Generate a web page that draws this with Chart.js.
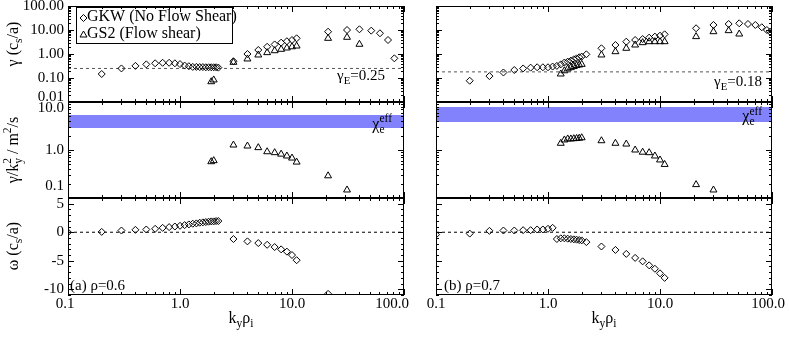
<!DOCTYPE html>
<html>
<head>
<meta charset="utf-8">
<title>Growth rates vs kyrho</title>
<script src="https://cdn.jsdelivr.net/npm/chart.js@4.4.1/dist/chart.umd.min.js"></script>
<style>
  body { margin: 0; background: #fff; }
  #wrap { position: relative; width: 789px; height: 337px; overflow: hidden; }
  #wrap canvas { position: absolute; left: 0; top: 0; }
</style>
</head>
<body>
<div id="wrap">
  <canvas id="gammaA" width="789" height="337"></canvas>
  <canvas id="chiA" width="789" height="337"></canvas>
  <canvas id="omegaA" width="789" height="337"></canvas>
  <canvas id="gammaB" width="789" height="337"></canvas>
  <canvas id="chiB" width="789" height="337"></canvas>
  <canvas id="omegaB" width="789" height="337"></canvas>
</div>
<script>
// axis ranges
const kMin = 0.1, kMax = 100;
const gammaMin = 0.01, gammaMax = 100;
const chiMin = 0.1, chiMax = 10;
const omegaMin = -11, omegaMax = 6;

// tick labels
const kTicks = [0.1, 1, 10, 100];
const kTickLabels = ['0.1', '1.0', '10.0', '100.0'];
const gammaTicks = [0.01, 0.1, 1, 10, 100];
const gammaTickLabels = ['0.01', '0.10', '1.00', '10.00', '100.00'];
const chiTicks = [0.1, 1, 10];
const chiTickLabels = ['0.1', '1.0', '10.0'];
const omegaTicks = [-10, -5, 0, 5];
const omegaTickLabels = ['-10', '-5', '0', '5'];

// (a) rho = 0.6
const kGkwA = [0.1, 0.2, 0.3, 0.4, 0.5, 0.6, 0.7, 0.8, 0.9, 1.0,
  1.1, 1.2, 1.3, 1.4, 1.5, 1.6, 1.7, 1.8, 1.9, 2.0, 2.1, 2.2,
  3, 4, 5, 6, 7, 8, 9, 10, 11, 21, 31, 40, 51, 61, 72, 82];
const gammaGkwA = [null, 0.147, 0.25, 0.32, 0.37, 0.41, 0.43, 0.43, 0.41, 0.38,
  0.33, 0.31, 0.29, 0.29, 0.285, 0.285, 0.28, 0.28, 0.28, 0.28, 0.28, 0.27,
  0.5, 1.0, 1.47, 2.0, 2.5, 2.97, 3.4, 3.83, 4.5, 8.5, 10.0, 10.7, 9.4, 7.3, 3.83, 0.66];
const omegaGkwA = [0, 0.06, 0.3, 0.42, 0.48, 0.6, 0.77, 0.9, 1.0, 1.13,
  1.25, 1.37, 1.49, 1.55, 1.67, 1.73, 1.79, 1.85, 1.9, 1.9, 1.96, 1.96,
  -1.19, -1.6, -1.9, -2.2, -2.6, -3.0, -3.4, -4.0, -4.9, -10.8, null, null, null, null, null, null];
const kGs2A = [1.9, 2.0, 3, 4, 5, 6, 7, 8, 9, 10, 11, 21, 31, 40];
const gammaGs2A = [0.07, 0.083, 0.45, 0.62, 0.91, 1.14, 1.37, 1.57, 1.78, 2.0, 2.15, 4.5, 4.96, 2.54];
const chiGs2A = [0.57, 0.6, 1.27, 1.21, 1.12, 0.92, 0.88, 0.82, 0.75, 0.68, 0.56, 0.29, 0.147, null];
const gammaEA = 0.25;
const chiBandA = [2.87, 5.36];

// (b) rho = 0.7
const kGkwB = [0.1, 0.2, 0.3, 0.4, 0.5, 0.6, 0.7, 0.8, 0.9, 1.0,
  1.1, 1.2, 1.3, 1.4, 1.5, 1.6, 1.7, 1.8, 1.9, 2.0, 2.2,
  3, 4, 5, 6, 7, 8, 9, 10, 11, 21, 30, 41, 51, 61, 71, 81, 90, 96];
const gammaGkwB = [null, 0.077, 0.12, 0.17, 0.215, 0.25, 0.27, 0.28, 0.28, 0.28,
  0.3, 0.32, 0.37, 0.44, 0.48, 0.53, 0.6, 0.66, 0.73, 0.78, 0.97,
  1.73, 2.37, 3.26, 3.83, 4.2, 4.8, 5.3, 5.8, 6.6, 11.8, 16.2, 17.8, 19, 17.8, 16.2, 13, 10, 8.5];
const omegaGkwB = [-0.42, -0.24, 0.24, 0.3, 0.3, 0.36, 0.36, 0.48, 0.48, 0.6,
  0.77, -1.19, -1.07, -1.07, -1.13, -1.19, -1.25, -1.3, -1.37, -1.43, -1.73,
  -2.5, -3.1, -3.8, -4.5, -5.1, -5.8, -6.4, -7.2, -8.0, null, null, null, null, null, null, null, null, null];
const kGs2B = [1.3, 1.4, 1.5, 1.6, 1.7, 1.8, 1.9, 2.0, 3, 4, 5, 6, 7, 8, 9, 10, 11, 21, 30, 41, 51];
const gammaGs2B = [0.147, 0.2, 0.24, 0.27, 0.3, 0.33, 0.35, 0.37, 0.91, 1.25, 1.73, 2.37, 2.97, 3.26, 3.26, 3.26, 3.26, 5.3, 8.5, 9.4, 6.8];
const chiGs2B = [1.38, 1.62, 1.7, 1.7, 1.72, 1.74, 1.76, 1.8, 1.56, 1.38, 1.33, 1.0, 0.9, 0.88, 0.75, 0.62, 0.5, 0.19, 0.147, null, null];
const gammaEB = 0.18;
const chiBandB = [3.83, 7.87];

const W = 789, H = 337;
const SERIF = '"Liberation Serif", "Times New Roman", serif';

function pts(xs, ys) {
  return xs.map((x, i) => ({ x: x, y: ys[i] })).filter(p => p.y !== null);
}

function gkw(data) {
  return { data: data, pointStyle: 'rectRot', pointRadius: 3.5, pointBorderWidth: 1,
    pointBorderColor: '#000', pointBackgroundColor: 'rgba(0,0,0,0)', clip: 0 };
}
function gs2(data) {
  return { data: data, pointStyle: 'triangle', pointRadius: 4, pointBorderWidth: 1,
    pointBorderColor: '#000', pointBackgroundColor: 'rgba(0,0,0,0)', clip: 0 };
}
function hline(y, color) {
  return { data: [{ x: kMin, y: y }, { x: kMax, y: y }], showLine: true, pointRadius: 0,
    borderColor: color, borderWidth: 1, borderDash: [3, 3] };
}
function band(lo, hi) {
  return [
    { data: [{ x: kMin, y: lo }, { x: kMax, y: lo }], showLine: true, pointRadius: 0, borderWidth: 0, fill: false },
    { data: [{ x: kMin, y: hi }, { x: kMax, y: hi }], showLine: true, pointRadius: 0, borderWidth: 0,
      fill: '-1', backgroundColor: '#8282fc' }
  ];
}

// text with sub/superscripts: parts = [text, 'sub'|'sup'|'', noAdvance]
function drawRich(ctx, parts, x, y, size, align) {
  const fontOf = k => (k ? size * 0.72 : size) + 'px ' + SERIF;
  let total = 0;
  parts.forEach(p => { ctx.font = fontOf(p[1]); if (!p[2]) total += ctx.measureText(p[0]).width; });
  let cx = align === 'center' ? x - total / 2 : align === 'right' ? x - total : x;
  ctx.textAlign = 'left';
  ctx.textBaseline = 'alphabetic';
  parts.forEach(p => {
    ctx.font = fontOf(p[1]);
    const dy = p[1] === 'sub' ? size * 0.25 : p[1] === 'sup' ? -size * 0.42 : 0;
    ctx.fillText(p[0], cx, y + dy);
    if (!p[2]) cx += ctx.measureText(p[0]).width;
  });
}

function tickList(scale, log) {
  const out = [];
  if (log) {
    for (let e = Math.floor(Math.log10(scale.min)); e <= Math.ceil(Math.log10(scale.max)); e++) {
      for (let m = 1; m <= 9; m++) {
        const v = m * Math.pow(10, e);
        if (v >= scale.min * 0.999 && v <= scale.max * 1.001) out.push({ v: v, major: m === 1 });
      }
    }
  } else {
    for (let v = Math.ceil(scale.min); v <= Math.floor(scale.max); v++) out.push({ v: v, major: v % 5 === 0 });
  }
  return out;
}

function makeDecor(cfg) {
  return {
    id: 'decor',
    afterDraw(chart) {
      const { ctx, chartArea: a, scales: { x, y } } = chart;
      ctx.save();
      ctx.strokeStyle = '#000';
      ctx.fillStyle = '#000';
      ctx.lineWidth = 1;
      // inward tick marks on all four sides
      ctx.beginPath();
      tickList(x, true).forEach(t => {
        const px = Math.round(x.getPixelForValue(t.v)) + 0.5;
        const len = t.major ? 6 : 3;
        ctx.moveTo(px, a.bottom); ctx.lineTo(px, a.bottom - len);
        ctx.moveTo(px, a.top); ctx.lineTo(px, a.top + len);
      });
      tickList(y, cfg.yLog).forEach(t => {
        const py = Math.round(y.getPixelForValue(t.v)) + 0.5;
        const len = t.major ? 6 : 3;
        ctx.moveTo(a.left, py); ctx.lineTo(a.left + len, py);
        ctx.moveTo(a.right, py); ctx.lineTo(a.right - len, py);
      });
      ctx.stroke();
      ctx.strokeRect(a.left + 0.5, a.top + 0.5, a.right - a.left - 1, a.bottom - a.top - 1);

      // tick labels
      ctx.font = '15px ' + SERIF;
      if (cfg.yLabels) {
        ctx.textAlign = 'right';
        ctx.textBaseline = 'middle';
        const [vals, labels] = cfg.yLabels;
        vals.forEach((v, i) => {
          let py = y.getPixelForValue(v);
          if (i === 0) py += cfg.yEdge[0];
          if (i === vals.length - 1) py += cfg.yEdge[1];
          ctx.fillText(labels[i], a.left - 4, py);
        });
      }
      if (cfg.xLabels) {
        ctx.textAlign = 'center';
        ctx.textBaseline = 'top';
        const [vals, labels] = cfg.xLabels;
        vals.forEach((v, i) => {
          let px = x.getPixelForValue(v);
          if (i === 0) px += cfg.xEdge[0];
          if (i === vals.length - 1) px += cfg.xEdge[1];
          ctx.fillText(labels[i], px, a.bottom + 2);
        });
        drawRich(ctx, [['k', ''], ['y', 'sub'], ['\u03c1', ''], ['i', 'sub']],
          (a.left + a.right) / 2 + cfg.xTitleShift, a.bottom + 28, 16, 'center');
      }
      if (cfg.yTitle) {
        ctx.save();
        ctx.translate(cfg.yTitle.x, cfg.yTitle.y);
        ctx.rotate(-Math.PI / 2);
        drawRich(ctx, cfg.yTitle.parts, 0, 5, 16, 'center');
        ctx.restore();
      }
      (cfg.notes || []).forEach(n => {
        const py = y.getPixelForValue(n.at) + n.dy;
        if (n.align === 'left') drawRich(ctx, n.parts, a.left + n.dx, py, n.size || 15, 'left');
        else drawRich(ctx, n.parts, a.right - n.dx, py, n.size || 15, 'right');
      });
      if (cfg.legend) {
        const lx = a.left + 8, ly = a.top + 1;
        ctx.strokeRect(lx + 0.5, ly + 0.5, 156, 36);
        ctx.beginPath();
        ctx.moveTo(lx + 4, ly + 11); ctx.lineTo(lx + 7.5, ly + 7.5);
        ctx.lineTo(lx + 11, ly + 11); ctx.lineTo(lx + 7.5, ly + 14.5); ctx.closePath();
        ctx.moveTo(lx + 7.5, ly + 24); ctx.lineTo(lx + 11, ly + 30);
        ctx.lineTo(lx + 4, ly + 30); ctx.closePath();
        ctx.stroke();
        ctx.font = '16px ' + SERIF;
        ctx.textAlign = 'left';
        ctx.textBaseline = 'middle';
        ctx.fillText('GKW (No Flow Shear)', lx + 11, ly + 10);
        ctx.fillText('GS2 (Flow shear)', lx + 11, ly + 27);
      }
      ctx.restore();
    }
  };
}

function makePanel(id, box, yType, yMin, yMax, datasets, cfg) {
  cfg.yLog = yType === 'logarithmic';
  return new Chart(document.getElementById(id), {
    type: 'scatter',
    data: { datasets: datasets },
    options: {
      responsive: false,
      animation: false,
      devicePixelRatio: 1,
      layout: { padding: { left: box[0], top: box[1], right: W - box[2], bottom: H - box[3] } },
      plugins: { legend: { display: false }, tooltip: { enabled: false } },
      scales: {
        x: { type: 'logarithmic', display: false, min: kMin, max: kMax },
        y: { type: yType, display: false, min: yMin, max: yMax }
      }
    },
    plugins: [makeDecor(cfg)]
  });
}

const colA = [68, 404], colB = [436, 772];
const rows = [[6, 102], [102, 198], [198, 295]];
const gammaTitle = [['\u03b3 (c', ''], ['s', 'sub'], ['/a)', '']];
const chiTitle = [['\u03b3/k', ''], ['y', 'sub', true], ['2', 'sup'], [' / m', ''], ['2', 'sup'], ['/s', '']];
const omegaTitle = [['\u03c9 (c', ''], ['s', 'sub'], ['/a)', '']];
const chiNote = [['\u03c7', ''], ['e', 'sub', true], ['eff', 'sup']];

// left column, rho = 0.6
makePanel('gammaA', [colA[0], rows[0][0], colA[1], rows[0][1]], 'logarithmic', gammaMin, gammaMax, [
  gkw(pts(kGkwA, gammaGkwA)), gs2(pts(kGs2A, gammaGs2A)), hline(gammaEA, '#555')
], {
  yLabels: [gammaTicks, gammaTickLabels], yEdge: [-5, 0],
  yTitle: { parts: gammaTitle, x: 13, y: 44 },
  notes: [{ parts: [['\u03b3', ''], ['E', 'sub'], ['=0.25', '']], at: gammaEA, dy: 12, dx: 19 }],
  legend: true
});
makePanel('chiA', [colA[0], rows[1][0], colA[1], rows[1][1]], 'logarithmic', chiMin, chiMax, [
  gs2(pts(kGs2A, chiGs2A)), ...band(chiBandA[0], chiBandA[1])
], {
  yLabels: [chiTicks, chiTickLabels], yEdge: [-12, 6],
  yTitle: { parts: chiTitle, x: 13, y: 150 },
  notes: [{ parts: chiNote, at: Math.sqrt(chiBandA[0] * chiBandA[1]), dy: 7, dx: 12, size: 16 }]
});
makePanel('omegaA', [colA[0], rows[2][0], colA[1], rows[2][1]], 'linear', omegaMin, omegaMax, [
  gkw(pts(kGkwA, omegaGkwA)), hline(0, '#000')
], {
  yLabels: [omegaTicks, omegaTickLabels], yEdge: [0, 0],
  xLabels: [kTicks, kTickLabels], xEdge: [-3, -12], xTitleShift: 5,
  yTitle: { parts: omegaTitle, x: 13, y: 246 },
  notes: [{ parts: [['(a) \u03c1=0.6', '']], at: omegaMin, dy: -5, dx: 2, align: 'left' }]
});

// right column, rho = 0.7
makePanel('gammaB', [colB[0], rows[0][0], colB[1], rows[0][1]], 'logarithmic', gammaMin, gammaMax, [
  gkw(pts(kGkwB, gammaGkwB)), gs2(pts(kGs2B, gammaGs2B)), hline(gammaEB, '#555')
], {
  notes: [{ parts: [['\u03b3', ''], ['E', 'sub'], ['=0.18', '']], at: gammaEB, dy: 14, dx: 10 }]
});
makePanel('chiB', [colB[0], rows[1][0], colB[1], rows[1][1]], 'logarithmic', chiMin, chiMax, [
  gs2(pts(kGs2B, chiGs2B)), ...band(chiBandB[0], chiBandB[1])
], {
  notes: [{ parts: chiNote, at: Math.sqrt(chiBandB[0] * chiBandB[1]), dy: 7, dx: 10, size: 16 }]
});
makePanel('omegaB', [colB[0], rows[2][0], colB[1], rows[2][1]], 'linear', omegaMin, omegaMax, [
  gkw(pts(kGkwB, omegaGkwB)), hline(0, '#000')
], {
  xLabels: [kTicks, kTickLabels], xEdge: [0, -4], xTitleShift: 0,
  notes: [{ parts: [['(b) \u03c1=0.7', '']], at: omegaMin, dy: -5, dx: 8, align: 'left' }]
});
</script>
</body>
</html>
